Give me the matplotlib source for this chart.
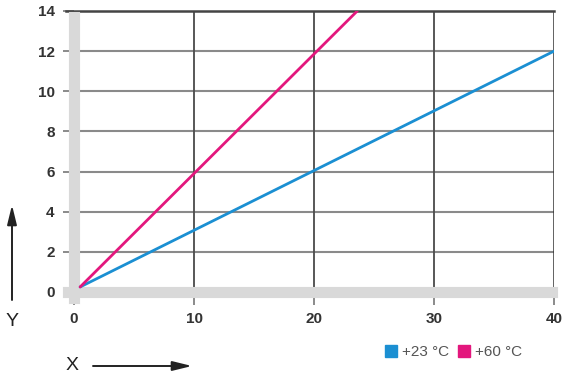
import matplotlib.pyplot as plt
from matplotlib.patches import Patch

plt.rcParams['font.family'] = ['Liberation Sans', 'DejaVu Sans']

# data
x_23 = [0.5, 40]
y_23 = [0.25, 12]
x_60 = [0.5, 23.6]
y_60 = [0.25, 14]
labels = ["+23 °C", "+60 °C"]
colors = ["#1b8fd2", "#e3177d"]
x_ticks = [0, 10, 20, 30, 40]
y_ticks = [0, 2, 4, 6, 8, 10, 12, 14]

fig = plt.figure(figsize=(5.7, 3.79), dpi=100)
ax = fig.add_axes([0.13, 0.2296, 0.842, 0.7414])

ax.set_xlim(0, 40)
ax.set_ylim(0, 14)
ax.set_xticks(x_ticks)
ax.set_yticks(y_ticks)

# grid
for yv in y_ticks[1:-1]:
    ax.axhline(yv, color="#8a8a8a", lw=1.5, zorder=1)
for xv in x_ticks[1:-1]:
    ax.axvline(xv, color="#4a4a4a", lw=1.3, zorder=1)

for s in ax.spines.values():
    s.set_visible(False)
ax.axvline(40, color="#333333", lw=1.8, zorder=2)
ax.axhline(14, xmin=-0.017, xmax=1.0, color="#444444", lw=1.8, zorder=2, clip_on=False)

# light grey axis bars
ax.axvline(0, ymin=-0.02, ymax=0.98, color="#d9d9d9", lw=8, zorder=3, clip_on=False)
ax.axhline(0, xmin=-0.012, xmax=0.995, color="#d9d9d9", lw=8, zorder=3, clip_on=False)

ax.plot(x_23, y_23, color=colors[0], lw=2, zorder=4, solid_capstyle="round")
ax.plot(x_60, y_60, color=colors[1], lw=2, zorder=4, solid_capstyle="round")

ax.tick_params(axis="y", length=8, width=1.2, color="#777777", pad=6,
               labelsize=11, labelcolor="#333333")
ax.tick_params(axis="x", length=9.5, width=1.2, color="#777777", pad=5,
               labelsize=11, labelcolor="#333333")
for t in ax.get_xticklabels() + ax.get_yticklabels():
    t.set_fontweight("bold")

# axis arrows
fig.text(12 / 570, 1 - 321 / 379, "Y", fontsize=14, ha="center", va="center", color="#222222")
fig.text(72 / 570, 1 - 365 / 379, "X", fontsize=14, ha="center", va="center", color="#222222")
arrow = dict(arrowstyle="-|>,head_length=0.9,head_width=0.22", color="#222222", lw=1.4,
             mutation_scale=13, shrinkA=0, shrinkB=0)
fig.add_artist(plt.Annotation("", xy=(12 / 570, 1 - 205 / 379), xytext=(12 / 570, 1 - 300 / 379),
                              xycoords="figure fraction", arrowprops=arrow))
fig.add_artist(plt.Annotation("", xy=(192 / 570, 1 - 366 / 379), xytext=(93 / 570, 1 - 366 / 379),
                              xycoords="figure fraction", arrowprops=arrow))

handles = [Patch(color=c, label=l) for c, l in zip(colors, labels)]
leg = fig.legend(handles=handles, loc="center left", bbox_to_anchor=(385 / 570, 1 - 352 / 379),
                 ncol=2, frameon=False, fontsize=11, handlelength=0.8, handleheight=0.8,
                 handletextpad=0.3, columnspacing=0.6, borderpad=0, borderaxespad=0)
for t in leg.get_texts():
    t.set_color("#555555")

fig.savefig("out.png", dpi=100)
